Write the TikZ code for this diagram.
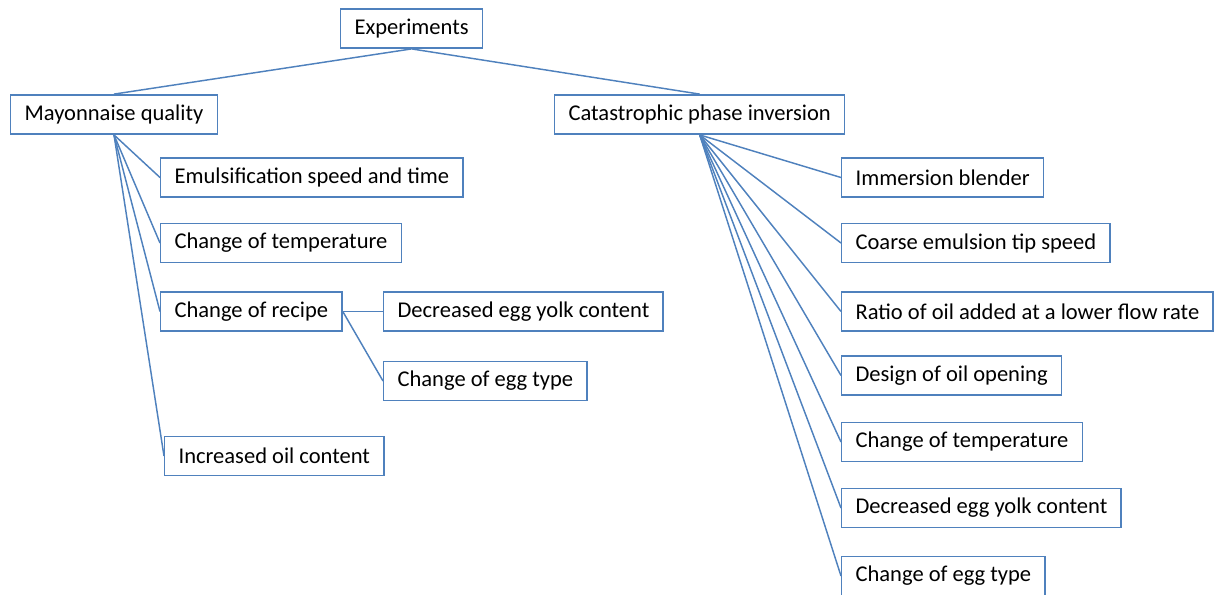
\documentclass[tikz,border=0pt]{standalone}
\usepackage{fontspec}
\setmainfont{Carlito}
\definecolor{officeblue}{HTML}{4F81BD}
\begin{document}
\begin{tikzpicture}[x=0.75pt, y=-0.75pt,
    box/.style={draw=officeblue, line width=1.1pt, anchor=west, inner xsep=10.4pt,
      minimum height=29.5pt, font=\fontsize{16.9}{20}\selectfont},
    link/.style={draw=officeblue, line width=1.1pt}]
    \useasboundingbox (0, 0) rectangle (1215, 594);
    \node[box] (exp) at (340, 28.5) {Experiments};
    \node[box] (may) at (10, 114.5) {Mayonnaise quality};
    \node[box] (cat) at (554, 114.5) {Catastrophic phase inversion};
    % left branch
    \node[box] (emul) at (160, 177.5) {Emulsification speed and time};
    \node[box] (tempL) at (160, 243) {Change of temperature};
    \node[box] (recipe) at (160, 311.5) {Change of recipe};
    \node[box] (yolkL) at (383, 311.5) {Decreased egg yolk content};
    \node[box] (eggL) at (383, 381) {Change of egg type};
    \node[box] (oil) at (164, 456) {Increased oil content};
    % right branch
    \node[box] (blender) at (841, 177.5) {Immersion blender};
    \node[box] (tip) at (841, 243) {Coarse emulsion tip speed};
    \node[box] (ratio) at (841, 311.5) {Ratio of oil added at a lower flow rate};
    \node[box] (opening) at (841, 375.5) {Design of oil opening};
    \node[box] (tempR) at (841, 442) {Change of temperature};
    \node[box] (yolkR) at (841, 508) {Decreased egg yolk content};
    \node[box] (eggR) at (841, 576) {Change of egg type};
    \draw[link] (exp.south) -- (may.north);
    \draw[link] (exp.south) -- (cat.north);
    \foreach \child in {emul, tempL, recipe, oil}
        \draw[link] (may.south) -- (\child.west);
    \draw[link] (recipe.east) -- (yolkL.west);
    \draw[link] (recipe.east) -- (eggL.west);
    \foreach \child in {blender, tip, ratio, opening, tempR, yolkR, eggR}
        \draw[link] (cat.south) -- (\child.west);
\end{tikzpicture}
\end{document}
